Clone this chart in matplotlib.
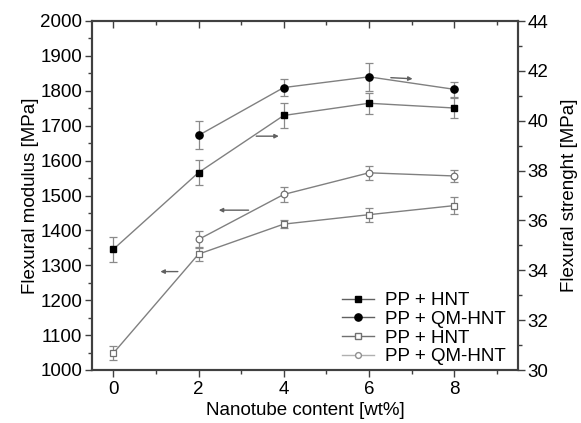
import matplotlib
matplotlib.use("Agg")
import matplotlib.pyplot as plt
from matplotlib.ticker import MultipleLocator
from matplotlib.lines import Line2D

plt.rcParams['font.family'] = ['Liberation Sans', 'DejaVu Sans']

# Nanotube content [wt%]
x_all = [0, 2, 4, 6, 8]
x_qm = [2, 4, 6, 8]

# Flexural strength [MPa] (right axis, filled markers)
str_hnt = [34.84, 37.92, 40.21, 40.70, 40.51]
str_hnt_err = [0.50, 0.50, 0.52, 0.42, 0.40]
str_qm = [39.41, 41.33, 41.76, 41.26]
str_qm_err = [0.56, 0.35, 0.56, 0.31]

# Flexural modulus [MPa] (left axis, open markers)
mod_hnt = [1048, 1332, 1418, 1445, 1471]
mod_hnt_err = [20, 20, 12, 20, 25]
mod_qm = [1374, 1503, 1565, 1556]
mod_qm_err = [25, 22, 20, 18]

labels = ["PP + HNT", "PP + QM-HNT", "PP + HNT", "PP + QM-HNT"]

fig = plt.figure(figsize=(5.81, 4.23), dpi=100)
ax = fig.add_axes([92/581, 1-370/423, (518-92)/581, (370-21)/423])
ax2 = ax.twinx()

line_c = '#808080'
spine_c = '#404040'

eb_kw = dict(capsize=3, elinewidth=0.9, capthick=0.9, lw=1.0)

ax.errorbar(x_all, mod_hnt, yerr=mod_hnt_err, color=line_c, ecolor='#8a8a8a',
            marker='s', ms=4.5, mfc='white', mec='#707070', mew=0.9, **eb_kw)
ax.errorbar(x_qm, mod_qm, yerr=mod_qm_err, color=line_c, ecolor='#8a8a8a',
            marker='o', ms=4.8, mfc='white', mec='#707070', mew=0.9, **eb_kw)
ax2.errorbar(x_all, str_hnt, yerr=str_hnt_err, color=line_c, ecolor='#8a8a8a',
             marker='s', ms=4.5, mfc='black', mec='black', **eb_kw)
ax2.errorbar(x_qm, str_qm, yerr=str_qm_err, color=line_c, ecolor='#8a8a8a',
             marker='o', ms=5.2, mfc='black', mec='black', **eb_kw)

ax.set_xlim(-0.5, 9.5)
ax.set_ylim(1000, 2000)
ax2.set_ylim(30, 44)

ax.xaxis.set_major_locator(MultipleLocator(2))
ax.xaxis.set_minor_locator(MultipleLocator(1))
ax.yaxis.set_major_locator(MultipleLocator(100))
ax.yaxis.set_minor_locator(MultipleLocator(50))
ax2.yaxis.set_major_locator(MultipleLocator(2))
ax2.yaxis.set_minor_locator(MultipleLocator(1))

fs = 13.5
ax.tick_params(axis='x', which='both', direction='out', top=False, labelsize=fs,
               color=spine_c, width=1.0, pad=3)
ax.tick_params(axis='x', which='major', length=5)
ax.tick_params(axis='x', which='minor', length=3)
ax.tick_params(axis='y', which='both', direction='out', labelsize=fs, color=spine_c, width=1.0, pad=2)
ax.tick_params(axis='y', which='major', length=5)
ax.tick_params(axis='y', which='minor', length=3)
ax2.tick_params(axis='y', which='both', direction='out', labelsize=fs, color=spine_c, width=1.0, pad=2)
ax2.tick_params(axis='y', which='major', length=5)
ax2.tick_params(axis='y', which='minor', length=3)

# top ticks inward
secx = ax.secondary_xaxis('top')
secx.xaxis.set_major_locator(MultipleLocator(2))
secx.xaxis.set_minor_locator(MultipleLocator(1))
secx.tick_params(axis='x', which='both', direction='in', labeltop=False, color=spine_c, width=1.0)
secx.tick_params(axis='x', which='major', length=5)
secx.tick_params(axis='x', which='minor', length=3)
secx.spines['top'].set_visible(False)

for a in (ax, ax2):
    for s in a.spines.values():
        s.set_color(spine_c)
        s.set_linewidth(1.5)

ax.set_xlabel("Nanotube content [wt%]", fontsize=fs, labelpad=3)
ax.set_ylabel("Flexural modulus [MPa]", fontsize=fs, labelpad=1)
ax2.set_ylabel("Flexural strenght [MPa]", fontsize=fs, labelpad=9)

arrow_kw = dict(arrowstyle='-|>', color='#606060', lw=1.0, mutation_scale=6)
ax.annotate('', xy=(3.95, 1670), xytext=(3.29, 1670), arrowprops=arrow_kw)
ax.annotate('', xy=(2.41, 1458), xytext=(3.24, 1458), arrowprops=arrow_kw)
ax.annotate('', xy=(1.04, 1282), xytext=(1.58, 1282), arrowprops=arrow_kw)
ax.annotate('', xy=(7.09, 1834), xytext=(6.45, 1838), arrowprops=arrow_kw)

handles = [
    Line2D([], [], color='#606060', marker='s', ms=4.5, mfc='black', mec='black', lw=1),
    Line2D([], [], color='#606060', marker='o', ms=5.2, mfc='black', mec='black', lw=1),
    Line2D([], [], color='#707070', marker='s', ms=4.2, mfc='white', mec='#707070', lw=1),
    Line2D([], [], color='#b0b0b0', marker='o', ms=4.2, mfc='white', mec='#909090', lw=1),
]
leg = ax2.legend(handles, labels, loc='lower right', frameon=False, fontsize=fs,
                 handlelength=1.7, handletextpad=0.6, labelspacing=0.08,
                 borderaxespad=0.0, bbox_to_anchor=(0.99, -0.008))

fig.savefig('out.png', dpi=100)
